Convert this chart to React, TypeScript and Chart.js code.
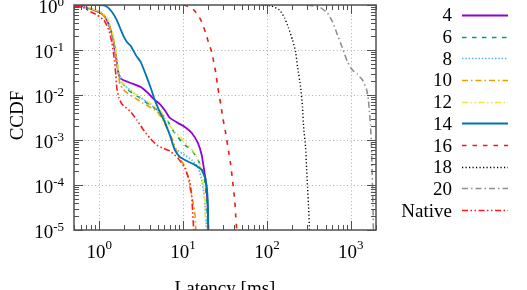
import React, { useEffect, useRef } from 'react';
import { Chart, registerables } from 'chart.js';

Chart.register(...registerables);

// ---- data (latency in ms, CCDF) ----
const seriesLabels = ['4', '6', '8', '10', '12', '14', '16', '18', '20', 'Native'];

const s4: [number, number][] = [
  [0.53, 1], [0.68, 0.9], [0.87, 0.77], [1.05, 0.66], [1.2, 0.51], [1.34, 0.32], [1.46, 0.185],
  [1.54, 0.1], [1.62, 0.054], [1.69, 0.032], [1.76, 0.025], [1.92, 0.0215], [2.38, 0.0185],
  [3.13, 0.0151], [3.8, 0.0111], [4.6, 0.0077], [5.28, 0.0063], [6.05, 0.0046], [6.95, 0.0031],
  [8.65, 0.0024], [10.5, 0.00195], [12.7, 0.00143], [15.0, 0.00086], [16.7, 0.00046],
  [17.6, 0.00025], [18.6, 0.000129], [19.1, 7.7e-5], [19.7, 2.8e-5], [20.0, 1e-5],
];
const s6: [number, number][] = [
  [0.53, 1], [0.68, 0.9], [0.87, 0.77], [1.05, 0.66], [1.2, 0.51], [1.34, 0.32], [1.46, 0.185],
  [1.54, 0.1], [1.62, 0.054], [1.69, 0.032], [1.76, 0.025], [1.86, 0.0195], [2.2, 0.0129],
  [3.05, 0.0086], [4.01, 0.006], [5.28, 0.0042], [6.4, 0.0028], [7.54, 0.00167], [8.65, 0.00117],
  [10.5, 0.00077], [12.7, 0.0006], [15.0, 0.00036], [17.2, 0.000215], [18.1, 0.000129],
  [19.1, 4.6e-5], [19.7, 1e-5],
];
const s8: [number, number][] = [
  [0.53, 1], [0.68, 0.9], [0.87, 0.77], [1.05, 0.66], [1.2, 0.51], [1.34, 0.32], [1.46, 0.185],
  [1.54, 0.1], [1.62, 0.054], [1.69, 0.032], [1.76, 0.025], [1.86, 0.0185], [2.32, 0.0129],
  [3.05, 0.009], [4.01, 0.0063], [5.28, 0.0042], [6.05, 0.0028], [6.95, 0.00129], [7.96, 0.00066],
  [10.5, 0.00046], [12.7, 0.00036], [15.0, 0.00025], [16.7, 0.000129], [18.1, 4.6e-5], [19.1, 1e-5],
];
const s10: [number, number][] = [
  [0.53, 1], [0.68, 0.9], [0.87, 0.77], [1.05, 0.66], [1.2, 0.51], [1.34, 0.32], [1.46, 0.185],
  [1.54, 0.1], [1.62, 0.054], [1.69, 0.032], [1.76, 0.0176], [1.92, 0.0136], [2.14, 0.0111],
  [2.66, 0.0086], [3.31, 0.0066], [4.01, 0.0054], [4.86, 0.0044], [5.73, 0.0028], [6.58, 0.00167],
  [7.54, 0.001], [8.65, 0.00046], [10.5, 0.00026], [11.4, 0.000158], [12.0, 9.0e-5], [13.0, 4.6e-5],
  [13.8, 2.4e-5], [14.2, 1e-5],
];
const s12: [number, number][] = [
  [0.53, 1], [0.72, 0.9], [0.92, 0.77], [1.1, 0.66], [1.25, 0.51], [1.38, 0.32], [1.5, 0.185],
  [1.58, 0.1], [1.66, 0.054], [1.72, 0.032], [1.8, 0.025], [1.86, 0.0195], [2.32, 0.0129],
  [3.05, 0.009], [4.01, 0.0066], [5.28, 0.0046], [6.4, 0.0028], [7.54, 0.00167], [9.14, 0.00117],
  [11.4, 0.00077], [13.8, 0.00051], [15.8, 0.00028], [17.2, 0.000129], [18.1, 4.6e-5], [18.6, 1e-5],
];
const s14: [number, number][] = [
  [0.5, 1], [1.02, 1], [1.2, 0.95], [1.42, 0.7], [1.62, 0.46], [1.81, 0.28], [1.97, 0.195],
  [2.14, 0.15], [2.38, 0.123], [2.73, 0.077], [3.13, 0.054], [3.6, 0.028], [4.12, 0.0143],
  [4.6, 0.0077], [5.28, 0.0042], [6.05, 0.0025], [6.95, 0.00129], [7.96, 0.0006], [9.14, 0.00042],
  [10.5, 0.00036], [13.8, 0.00028], [16.7, 0.000215], [18.6, 0.000129], [19.7, 4.6e-5], [20.0, 1e-5],
];
const s16: [number, number][] = [
  [10.2, 1], [12.7, 0.86], [15.0, 0.6], [16.7, 0.42], [18.6, 0.24], [20.2, 0.143], [22.0, 0.09],
  [23.2, 0.054], [24.5, 0.032], [25.9, 0.0151], [28.1, 0.0063], [29.7, 0.0032], [32.2, 0.00143],
  [35.0, 0.00054], [37.0, 0.00028], [39.1, 0.000117], [41.3, 4.6e-5], [42.4, 2.15e-5], [43.6, 1e-5],
];
const s18: [number, number][] = [
  [86.5, 1], [114, 0.95], [142, 0.77], [163, 0.51], [181, 0.31], [202, 0.167], [220, 0.09],
  [232, 0.042], [252, 0.0151], [266, 0.0054], [274, 0.00195], [289, 0.0007], [297, 0.00025],
  [305, 9.0e-5], [314, 3.2e-5], [322, 1e-5],
];
const s20: [number, number][] = [
  [305, 1], [424, 0.9], [528, 0.66], [606, 0.42], [695, 0.215], [796, 0.111], [914, 0.054],
  [1048, 0.036], [1202, 0.029], [1380, 0.0215], [1540, 0.0136], [1626, 0.0077], [1671, 0.0042],
  [1718, 0.00215], [1764, 0.00077], [1788, 0.00028], [1813, 0.0001], [1838, 3.6e-5], [1862, 1e-5],
];
const sNative: [number, number][] = [
  [0.514, 0.95], [0.657, 0.86], [0.797, 0.7], [0.939, 0.6], [1.14, 0.46], [1.3, 0.28], [1.42, 0.143],
  [1.5, 0.07], [1.58, 0.028], [1.62, 0.0143], [1.72, 0.0086], [1.86, 0.0063], [2.32, 0.0044],
  [2.81, 0.0028], [3.31, 0.00176], [4.01, 0.00111], [4.86, 0.00077], [5.73, 0.00066], [6.95, 0.00057],
  [8.65, 0.0004], [10.5, 0.00024], [12.0, 0.000117], [12.7, 5.4e-5], [13.0, 2.5e-5], [13.4, 1e-5],
];

const xTickExps = [0, 1, 2, 3];
const yTickExps = [0, -1, -2, -3, -4, -5];
const xMin = 0.5;
const xMax = 2000;
const yMin = 1e-5;
const yMax = 1;
const xTitle = 'Latency [ms]';
const yTitle = 'CCDF';

// ---- styles ----
const allSeries = [s4, s6, s8, s10, s12, s14, s16, s18, s20, sNative];
const colors = ['#9400d3', '#009e73', '#56b4e9', '#e69f00', '#f0e442', '#0072b2', '#e51e10', '#000000', '#909090', '#ff1a1a'];
const dashes: number[][] = [
  [],
  [4.5, 5.5],
  [1.5, 1.8],
  [6, 3, 1.5, 3],
  [6, 2.5, 1.5, 2.5, 1.5, 2.5],
  [],
  [4.5, 6],
  [1.2, 2.3],
  [6, 3, 1.5, 3],
  [6, 2.5, 1.5, 2.5, 1.5, 2.5],
];
const widths = [1.8, 1.6, 1.6, 1.6, 1.6, 1.8, 1.6, 1.4, 1.6, 1.6];
const FONT = '"Liberation Serif", "Times New Roman", serif';
const W = 527;
const H = 290;

function drawPow(ctx: CanvasRenderingContext2D, exp: number, x: number, baseY: number, supY: number, align: 'right' | 'center') {
  const base = '10';
  const sup = String(exp);
  ctx.font = `19px ${FONT}`;
  const wb = ctx.measureText(base).width;
  ctx.font = `13px ${FONT}`;
  const ws = ctx.measureText(sup).width;
  const total = wb + ws;
  const sx = align === 'right' ? x - total : x - total / 2;
  ctx.textAlign = 'left';
  ctx.textBaseline = 'alphabetic';
  ctx.fillStyle = '#000';
  ctx.font = `19px ${FONT}`;
  ctx.fillText(base, sx, baseY);
  ctx.font = `13px ${FONT}`;
  ctx.fillText(sup, sx + wb, supY);
}

const gnuplotPlugin = {
  id: 'gnuplotLook',
  beforeDatasetsDraw(chart: any) {
    const { ctx, chartArea: a, scales } = chart;
    const x = scales.x;
    const y = scales.y;
    ctx.save();
    ctx.strokeStyle = '#b0b0b0';
    ctx.lineWidth = 1;
    ctx.setLineDash([1, 2.5]);
    for (const e of xTickExps) {
      const px = Math.round(x.getPixelForValue(Math.pow(10, e))) + 0.5;
      if (px <= a.left + 1 || px >= a.right - 1) continue;
      ctx.beginPath();
      ctx.moveTo(px, a.top);
      ctx.lineTo(px, a.bottom);
      ctx.stroke();
    }
    for (const e of yTickExps) {
      const py = Math.round(y.getPixelForValue(Math.pow(10, e))) + 0.5;
      if (py <= a.top + 1 || py >= a.bottom - 1) continue;
      ctx.beginPath();
      ctx.moveTo(a.left, py);
      ctx.lineTo(a.right, py);
      ctx.stroke();
    }
    ctx.restore();
  },
  afterDatasetsDraw(chart: any) {
    const { ctx, chartArea: a, scales } = chart;
    const x = scales.x;
    const y = scales.y;
    ctx.save();
    ctx.setLineDash([]);
    ctx.strokeStyle = '#505050';
    ctx.lineWidth = 1;
    const MAJ = 9;
    const MIN = 5;
    // x ticks
    for (let e = -1; e <= 3; e++) {
      for (let m = 1; m <= 9; m++) {
        const v = m * Math.pow(10, e);
        if (v < xMin || v > xMax) continue;
        const px = Math.round(x.getPixelForValue(v)) + 0.5;
        const len = m === 1 ? MAJ : MIN;
        ctx.beginPath();
        ctx.moveTo(px, a.bottom);
        ctx.lineTo(px, a.bottom - len);
        ctx.moveTo(px, a.top);
        ctx.lineTo(px, a.top + len);
        ctx.stroke();
      }
    }
    // y ticks
    for (let e = -5; e <= 0; e++) {
      for (let m = 1; m <= 9; m++) {
        const v = m * Math.pow(10, e);
        if (v < yMin || v > yMax) continue;
        const py = Math.round(y.getPixelForValue(v)) + 0.5;
        const len = m === 1 ? MAJ : MIN;
        ctx.beginPath();
        ctx.moveTo(a.left, py);
        ctx.lineTo(a.left + len, py);
        ctx.moveTo(a.right, py);
        ctx.lineTo(a.right - len, py);
        ctx.stroke();
      }
    }
    // border
    ctx.lineWidth = 1.5;
    ctx.strokeStyle = '#505050';
    ctx.strokeRect(a.left, a.top, a.right - a.left, a.bottom - a.top);

    // tick labels
    for (const e of xTickExps) {
      const px = x.getPixelForValue(Math.pow(10, e));
      drawPow(ctx, e, px, 258, 249, 'center');
    }
    for (const e of yTickExps) {
      const py = y.getPixelForValue(Math.pow(10, e));
      drawPow(ctx, e, 64, py + 8, py + 1, 'right');
    }

    // axis titles
    ctx.fillStyle = '#000';
    ctx.font = `19px ${FONT}`;
    ctx.textAlign = 'center';
    ctx.textBaseline = 'alphabetic';
    ctx.fillText(xTitle, (a.left + a.right) / 2, 294);
    ctx.save();
    ctx.translate(23, (a.top + a.bottom) / 2 - 2);
    ctx.rotate(-Math.PI / 2);
    ctx.fillText(yTitle, 0, 0);
    ctx.restore();

    // legend
    const rowStart = 15;
    const rowStep = 21.67;
    seriesLabels.forEach((lab, i) => {
      const ry = rowStart + i * rowStep;
      ctx.fillStyle = '#000';
      ctx.font = `19px ${FONT}`;
      ctx.textAlign = 'right';
      ctx.textBaseline = 'middle';
      ctx.fillText(lab, 452, ry + 1.5);
      ctx.strokeStyle = colors[i];
      ctx.lineWidth = widths[i];
      ctx.setLineDash(dashes[i]);
      ctx.beginPath();
      ctx.moveTo(462, Math.round(ry) + 0.5);
      ctx.lineTo(508, Math.round(ry) + 0.5);
      ctx.stroke();
    });
    ctx.restore();
  },
};

export default function App() {
  const ref = useRef<HTMLCanvasElement | null>(null);
  useEffect(() => {
    document.body.style.margin = '0';
    const canvas = ref.current;
    if (!canvas) return;
    const chart = new Chart(canvas, {
      type: 'line',
      data: {
        datasets: allSeries.map((s, i) => ({
          label: seriesLabels[i],
          data: s.map(([xv, yv]) => ({ x: xv, y: yv })),
          borderColor: colors[i],
          backgroundColor: colors[i],
          borderWidth: widths[i],
          borderDash: dashes[i],
          pointRadius: 0,
          pointHoverRadius: 0,
          fill: false,
          tension: 0.15,
          clip: 0,
          order: allSeries.length - i,
        })),
      },
      options: {
        responsive: false,
        animation: false,
        devicePixelRatio: 1,
        layout: { padding: { left: 74, right: W - 376, top: 5, bottom: H - 230 } },
        scales: {
          x: { type: 'logarithmic', min: xMin, max: xMax, display: false },
          y: { type: 'logarithmic', min: yMin, max: yMax, display: false },
        },
        plugins: {
          legend: { display: false },
          tooltip: { enabled: false },
        },
        events: [],
      },
      plugins: [gnuplotPlugin],
    } as any);
    return () => chart.destroy();
  }, []);
  return <canvas ref={ref} width={W} height={H} style={{ display: 'block', width: W, height: H }} />;
}
